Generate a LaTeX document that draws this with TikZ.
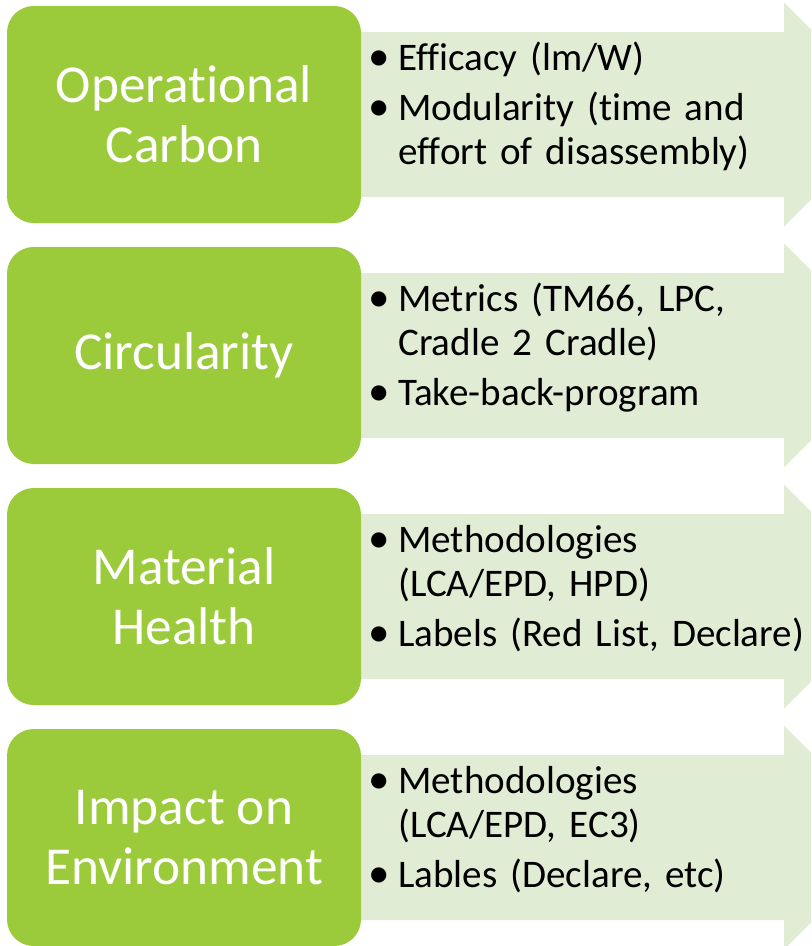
\documentclass[tikz,border=0pt]{standalone}
\usepackage{fontspec}
\setmainfont[Ligatures=NoCommon]{Carlito}
\usetikzlibrary{positioning}
\definecolor{leafgreen}{RGB}{155,203,59}
\definecolor{palegreen}{RGB}{224,236,212}
\newcommand{\bulletitem}[1]{\hangindent=23.25pt\hangafter=1\noindent\makebox[23.25pt][l]{\hspace{1pt}\scalebox{1.1}{\textbullet}}#1\par}

\begin{document}
\begin{tikzpicture}[
		x=0.75pt, y=-0.75pt,
		cat/.style   = {rectangle, rounded corners=20pt, fill=leafgreen, text=white, minimum width=265.5pt, minimum height=162.75pt, align=center, inner sep=0pt, font=\fontsize{40}{45}\selectfont},
		notes/.style = {anchor=west, text width=345pt, inner sep=0pt, font=\fontsize{29.3}{33}\selectfont\raggedright\setlength{\parskip}{4.5pt}},
		band/.style  = {fill=palegreen}
		]
		\path[use as bounding box, clip] (0, 0) rectangle (811, 946);
		
		%Arrows
		\fill[band]	(340, 32)	-- (784, 32)	-- (784, 2.5)	-- (896, 114.5)	-- (784, 226.5)	-- (784, 197)	-- (340, 197)	-- cycle;
		\fill[band]	(340, 273)	-- (784, 273)	-- (784, 243.5)	-- (896, 355.5)	-- (784, 467.5)	-- (784, 438)	-- (340, 438)	-- cycle;
		\fill[band]	(340, 514)	-- (784, 514)	-- (784, 484.5)	-- (896, 596.5)	-- (784, 708.5)	-- (784, 679)	-- (340, 679)	-- cycle;
		\fill[band]	(340, 755)	-- (784, 755)	-- (784, 725.5)	-- (896, 837.5)	-- (784, 949.5)	-- (784, 920)	-- (340, 920)	-- cycle;
		
		%Categories
		\node[cat]	(opcarbon)	at	(184, 114.5)	{Operational\\Carbon};
		\node[cat]	(circular)	at	(184, 355.5)	{Circularity};
		\node[cat]	(health)	at	(184, 596.5)	{Material\\Health};
		\node[cat]	(impact)	at	(184, 837.5)	{Impact on\\Environment};
		
		%Notes
		\node[notes]	(opcarbonnotes)	at	(367, 106)	{\bulletitem{Efficacy (lm/W)}\bulletitem{Modularity (time and\newline effort of disassembly)}};
		\node[notes]	(circularnotes)	at	(367, 348)	{\bulletitem{Metrics (TM66, LPC,\newline Cradle 2 Cradle)}\bulletitem{Take-back-program}};
		\node[notes]	(healthnotes)	at	(367, 589)	{\bulletitem{Methodologies\newline (LCA/EPD, HPD)}\bulletitem{Labels (Red List, Declare)}};
		\node[notes]	(impactnotes)	at	(367, 830)	{\bulletitem{Methodologies\newline (LCA/EPD, EC3)}\bulletitem{Lables (Declare, etc)}};
	\end{tikzpicture}
\end{document}
